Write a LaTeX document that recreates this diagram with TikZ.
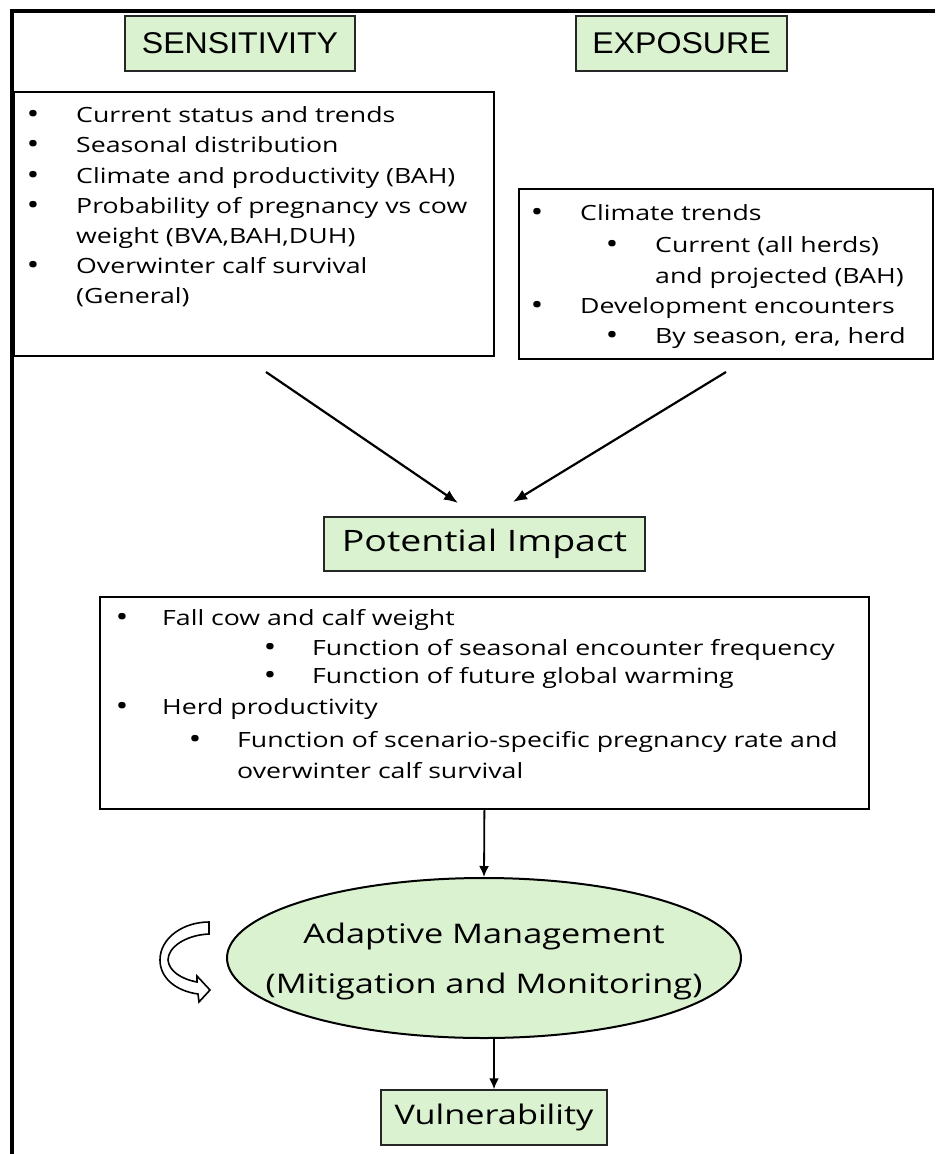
\documentclass[tikz,border=0pt]{standalone}
\usepackage{fontspec}
\setmainfont{Open Sans}[FakeStretch=1.27]
\newfontfamily\capsfont{Liberation Sans}[FakeStretch=1.07]
\usetikzlibrary{arrows.meta,shapes.geometric}
\definecolor{boxgreen}{RGB}{218,242,208}
\begin{document}
\begin{tikzpicture}[x=1pt,y=-1pt,
  listbox/.style={draw, line width=1.8pt, anchor=north west, inner sep=0pt},
  headbox/.style={draw=black!85, line width=1.5pt, fill=boxgreen, inner sep=0pt},
  bodytext/.style={anchor=base west, inner sep=0pt, font=\fontsize{21}{25}\selectfont},
  dot/.style={anchor=base, inner sep=0pt, font=\fontsize{27}{30}\selectfont},
  bigtext/.style={font=\fontsize{27}{32}\selectfont},
  arr/.style={line width=2.2pt, -{Latex[length=14pt,width=11pt]}},
]
\useasboundingbox (0,0) rectangle (935,1154);

% open frame: top and left edges
\draw[line width=3.2pt] (12,1154) -- (12,11) -- (935,11);

% headings
\node[headbox, minimum width=230pt, minimum height=55pt, font=\capsfont\fontsize{30}{34}\selectfont] (sens) at (240,43.5) {SENSITIVITY};
\node[headbox, minimum width=211pt, minimum height=55pt, font=\capsfont\fontsize{30}{34}\selectfont] (expo) at (681.5,43.5) {EXPOSURE};

% list boxes
\node[listbox, minimum width=480pt, minimum height=264pt] (senslist) at (13,91) {};
\node[listbox, minimum width=414pt, minimum height=170pt] (expolist) at (518,188) {};
\node[listbox, minimum width=769pt, minimum height=212pt] (implist) at (99,596) {};

% sensitivity items
\foreach \y [count=\k] in {122,152.5,183,213,273}
  \node[dot] (sdot\k) at (33,\y+1) {•};
\node[bodytext] (s1) at (76,122) {Current status and trends};
\node[bodytext] (s2) at (76,152.5) {Seasonal distribution};
\node[bodytext] (s3) at (76,183) {Climate and productivity (BAH)};
\node[bodytext] (s4) at (76,213) {Probability of pregnancy vs cow};
\node[bodytext] (s5) at (76,243) {weight (BVA,BAH,DUH)};
\node[bodytext] (s6) at (76,273) {Overwinter calf survival};
\node[bodytext] (s7) at (76,303) {(General)};

% exposure items
\foreach \x/\y [count=\k] in {537/220,612/252,537/313,612/343}
  \node[dot] (edot\k) at (\x,\y+1) {•};
\node[bodytext] (e1) at (580,220) {Climate trends};
\node[bodytext] (e2) at (655,252) {Current (all herds)};
\node[bodytext] (e3) at (655,283) {and projected (BAH)};
\node[bodytext] (e4) at (580,313) {Development encounters};
\node[bodytext] (e5) at (655,343) {By season, era, herd};

% potential impact
\node[headbox, minimum width=321pt, minimum height=54pt, font=\fontsize{29.5}{34}\selectfont] (impact) at (484.5,544) {Potential Impact};

% impact items
\foreach \x/\y [count=\k] in {122/625,270/655,270/683,122/714,195/747}
  \node[dot] (idot\k) at (\x,\y+1) {•};
\node[bodytext] (i1) at (162,625) {Fall cow and calf weight};
\node[bodytext] (i2) at (312,655) {Function of seasonal encounter frequency};
\node[bodytext] (i3) at (312,683) {Function of future global warming};
\node[bodytext] (i4) at (162,714) {Herd productivity};
\node[bodytext] (i5) at (237,747) {Function of scenario-specific pregnancy rate and};
\node[bodytext] (i6) at (237,778) {overwinter calf survival};

% adaptive management
\node[ellipse, draw, line width=2pt, fill=boxgreen, minimum width=514pt, minimum height=160pt, inner sep=0pt] (adapt) at (484,958) {};
\node[bigtext, anchor=base, inner sep=0pt] (a1) at (484,943) {Adaptive Management};
\node[bigtext, anchor=base, inner sep=0pt] (a2) at (484,993) {(Mitigation and Monitoring)};

% vulnerability
\node[headbox, minimum width=226pt, minimum height=55pt, bigtext] (vuln) at (494,1117.5) {Vulnerability};

% connectors
\coordinate (sfrom) at (266,372);
\coordinate (sto) at (458,503);
\coordinate (efrom) at (726,372);
\coordinate (eto) at (513,502);
\draw[arr] (sfrom) -- (sto);
\draw[arr] (efrom) -- (eto);
\draw[arr, line width=1.8pt, -{Latex[length=11pt,width=10pt]}] (implist.south) -- (adapt.north);
\draw[arr, line width=1.8pt, -{Latex[length=11pt,width=10pt]}] (vuln.north |- adapt.south) -- (vuln.north);

% curved block arrow beside the ellipse
\draw[line width=1.6pt, fill=white, line join=miter]
  (209,922) -- (209,934)
  .. controls (186,935) and (168,947) .. (168,960)
  .. controls (169,971) and (181,979) .. (197,982)
  -- (197,976) -- (210,990) -- (199,1002) -- (198,994)
  .. controls (176,991) and (160,978) .. (160,960)
  .. controls (160,938) and (183,922) .. (209,922) -- cycle;
\end{tikzpicture}
\end{document}
